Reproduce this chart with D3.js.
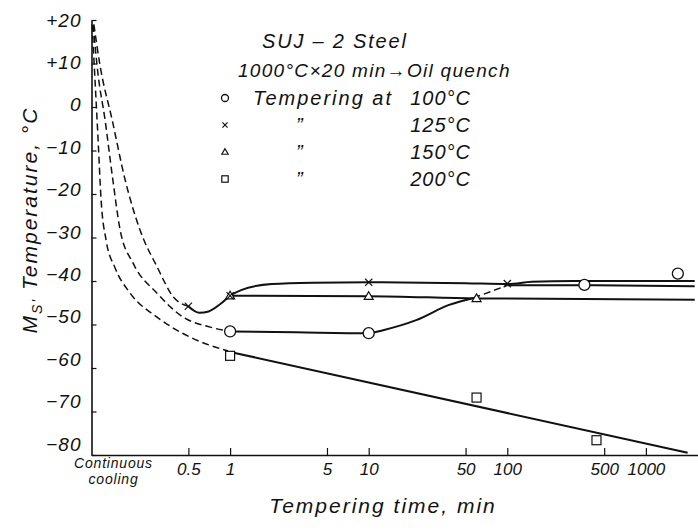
<!DOCTYPE html>
<html>
<head>
<meta charset="utf-8">
<script src="https://cdn.jsdelivr.net/npm/d3@7/dist/d3.min.js"></script>
<style>
  html, body { margin: 0; padding: 0; background: #fff; }
  svg { display: block; }
  text { font-family: "Liberation Sans", "DejaVu Sans", sans-serif; font-style: italic; fill: #111; }
</style>
</head>
<body>
<svg id="chart" width="698" height="530"></svg>
<script>
// Ms' temperature of SUJ-2 steel vs. tempering time (log scale), four tempering temperatures.

// Axis ticks
const yTicks = [20, 10, 0, -10, -20, -30, -40, -50, -60, -70, -80];
const yTickLabels = ["+20", "+10", "0", "\u221210", "\u221220", "\u221230", "\u221240", "\u221250", "\u221260", "\u221270", "\u221280"];
const xTicks = [0.5, 1, 5, 10, 50, 100, 500, 1000];
const xTickLabels = ["0.5", "1", "5", "10", "50", "100", "500", "1000"];
const startLabel = ["Continuous", "cooling"];

// 100 °C tempering (circles)
const t100Dashed = [[0.1027, 18.9], [0.1116, 7.4], [0.1253, -3.0], [0.141, -15.6], [0.161, -28.3], [0.1995, -35.9], [0.297, -42.8], [0.458, -48.3], [0.718, -50.6], [1, -51.6]];
const t100Solid = [[1, -51.6], [3, -51.8], [10, -52.0], [12.7, -51.3], [22, -49.0], [38, -45.5], [57, -43.9]];
const t100Bridge = [[57, -43.9], [100, -41.0]];
const t100Tail = [[100, -41.0], [360, -41.0], [2250, -41.2]];
const t100Points = [[1, -51.6], [10, -52.0], [360, -40.9], [1700, -38.3]];

// 125 °C tempering (crosses)
const t125Dashed = [[0.104, 19.0], [0.115, 9.7], [0.141, -3.0], [0.175, -16.8], [0.224, -28.3], [0.30, -37.0], [0.39, -43.7], [0.5, -45.8]];
const t125Solid = [[0.5, -45.8], [0.6, -47.3], [0.7, -47.0], [0.85, -45.3], [1, -43.4], [1.2, -42.1], [2, -40.7], [4, -40.4], [10, -40.3], [50, -40.5], [100, -40.7], [150, -40.2], [300, -40.0], [2250, -40.0]];
const t125Points = [[0.5, -45.8], [1, -43.4], [10, -40.3], [100, -40.6]];

// 150 °C tempering (triangles)
const t150Solid = [[1, -43.4], [10, -43.5], [60, -44.0], [2250, -44.3]];
const t150Points = [[1, -43.4], [10, -43.5], [60, -44.0]];

// 200 °C tempering (squares)
const t200Dashed = [[0.101, 18.9], [0.106, 6.2], [0.1116, -7.6], [0.1173, -21.4], [0.1274, -30.6], [0.148, -37.0], [0.19, -42.8], [0.297, -48.3], [0.514, -52.9], [0.967, -56.1]];
const t200Solid = [[1, -56.3], [2000, -79.5]];
const t200Points = [[1, -57.2], [60, -66.8], [440, -76.6]];

// Legend
const legendTitle = ["SUJ \u2013 2 Steel", "1000\u00B0C\u00D720 min\u2192Oil quench"];
const legendSymbols = ["circle", "cross", "triangle", "square"];
const legendTemps = ["100\u00B0C", "125\u00B0C", "150\u00B0C", "200\u00B0C"];
const legendLead = ["Tempering  at", "\u201D", "\u201D", "\u201D"];

const svg = d3.select("#chart");
svg.append("rect").attr("width", 698).attr("height", 530).attr("fill", "#fff");

const x = d3.scaleLog().domain([0.1, 2400]).range([91.5, 698.6]);
const y = d3.scaleLinear().domain([-80, 20]).range([455, 20]);

// Y axis, ticks pointing inwards; lettering sits slightly above the lower ticks
const yAxis = d3.axisLeft(y).tickValues(yTicks).tickSizeInner(-5).tickSizeOuter(0).tickPadding(10)
  .tickFormat((d, i) => yTickLabels[i]);
const gy = svg.append("g").attr("transform", `translate(${x(0.1)},0)`).call(yAxis);
gy.select(".domain").attr("stroke", "#111").attr("stroke-width", 1.6);
gy.selectAll(".tick line").attr("stroke", "#111").attr("stroke-width", 1.2);
gy.selectAll(".tick text").attr("font-size", 19).attr("fill", "#111").style("font-family", null)
  .attr("letter-spacing", 1)
  .attr("y", d => -(20 - d) * 0.11);

// X axis, ticks pointing upwards
const xAxis = d3.axisBottom(x).tickValues(xTicks).tickSizeInner(-7).tickSizeOuter(0).tickPadding(8)
  .tickFormat((d, i) => xTickLabels[i]);
const gx = svg.append("g").attr("transform", `translate(0,${y(-80)})`).call(xAxis);
gx.select(".domain").attr("stroke", "#111").attr("stroke-width", 1.6);
gx.selectAll(".tick line").attr("stroke", "#111").attr("stroke-width", 1.2);
gx.selectAll(".tick text").attr("font-size", 17).attr("fill", "#111").style("font-family", null);

// "Continuous cooling" label under the origin, two lines
startLabel.forEach((s, i) => {
  svg.append("text").attr("x", x(0.1) + 22).attr("y", y(-80) + 13 + i * 16)
    .attr("text-anchor", "middle").attr("font-size", 14).attr("letter-spacing", 0.8).text(s);
});

// Axis titles
svg.append("text").attr("x", 383).attr("y", 513).attr("text-anchor", "middle").attr("font-size", 21)
  .attr("letter-spacing", 2).text("Tempering  time,  min");
const yt = svg.append("text").attr("transform", "translate(37,220) rotate(-90)")
  .attr("text-anchor", "middle").attr("font-size", 21).attr("letter-spacing", 2);
yt.append("tspan").text("M");
yt.append("tspan").attr("font-size", 14).attr("dy", 5).text("S'");
yt.append("tspan").attr("dy", -5).text(" Temperature, \u00B0C");

// Curves
const line = d3.line().x(d => x(d[0])).y(d => y(d[1])).curve(d3.curveMonotoneX);
const drawLine = (data, dashed) => svg.append("path").datum(data)
  .attr("d", line).attr("fill", "none").attr("stroke", "#111")
  .attr("stroke-width", dashed ? 1.5 : 2)
  .attr("stroke-dasharray", dashed ? "7,4" : null);

drawLine(t200Dashed, true);
drawLine(t100Dashed, true);
drawLine(t125Dashed, true);
drawLine(t200Solid, false);
drawLine(t150Solid, false);
drawLine(t100Solid, false);
drawLine(t100Bridge, true);
drawLine(t100Tail, false);
drawLine(t125Solid, false);

// Marker shapes
function marker(g, kind, cx, cy, s) {
  if (kind === "circle") {
    g.append("circle").attr("cx", cx).attr("cy", cy).attr("r", s)
      .attr("fill", "#fff").attr("stroke", "#111").attr("stroke-width", 1.3);
  } else if (kind === "cross") {
    const h = s * 0.8;
    g.append("path").attr("d", `M${cx - h},${cy - h}L${cx + h},${cy + h}M${cx - h},${cy + h}L${cx + h},${cy - h}`)
      .attr("stroke", "#111").attr("stroke-width", 1.2).attr("fill", "none");
  } else if (kind === "triangle") {
    g.append("path").attr("d", `M${cx},${cy - s}L${cx + s},${cy + s * 0.7}L${cx - s},${cy + s * 0.7}Z`)
      .attr("fill", "#fff").attr("stroke", "#111").attr("stroke-width", 1.2);
  } else {
    g.append("rect").attr("x", cx - s).attr("y", cy - s).attr("width", 2 * s).attr("height", 2 * s)
      .attr("fill", "#fff").attr("stroke", "#111").attr("stroke-width", 1.2);
  }
}

const gm = svg.append("g");
t200Points.forEach(d => marker(gm, "square", x(d[0]), y(d[1]), 4.5));
t150Points.forEach(d => marker(gm, "triangle", x(d[0]), y(d[1]), 4.5));
t100Points.forEach(d => marker(gm, "circle", x(d[0]), y(d[1]), 5.5));
t125Points.forEach(d => marker(gm, "cross", x(d[0]), y(d[1]), 4.5));

// Legend block
const lg = svg.append("g");
lg.append("text").attr("x", 262).attr("y", 48).attr("font-size", 20).attr("letter-spacing", 1.8).text(legendTitle[0]);
lg.append("text").attr("x", 238).attr("y", 77).attr("font-size", 19).attr("letter-spacing", 1.3).text(legendTitle[1]);
legendSymbols.forEach((k, i) => {
  const cy = 98 + i * 27;
  marker(lg, k, 225, cy, k === "circle" ? 3.5 : 3.2);
  lg.append("text").attr("x", i === 0 ? 253 : 296).attr("y", cy + 7).attr("font-size", 20)
    .attr("letter-spacing", 2).text(legendLead[i]);
  lg.append("text").attr("x", 471).attr("y", cy + 7).attr("text-anchor", "end").attr("font-size", 20)
    .attr("letter-spacing", 1).text(legendTemps[i]);
});
</script>
</body>
</html>
